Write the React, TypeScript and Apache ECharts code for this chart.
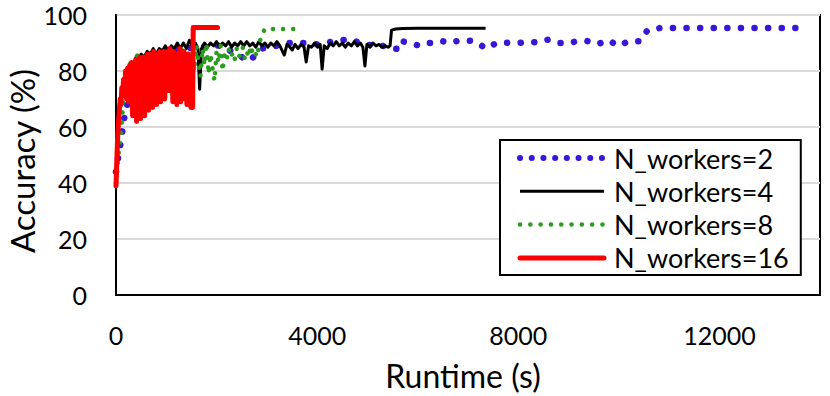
import React, { useEffect, useRef } from 'react';
import * as echarts from 'echarts';

const seriesNames = ['N_workers=2', 'N_workers=4', 'N_workers=8', 'N_workers=16'];
const xTicks = [0, 4000, 8000, 12000];
const yTicks = [0, 20, 40, 60, 80, 100];
const xTitle = 'Runtime (s)';
const yTitle = 'Accuracy (%)';

const workers2: [number, number][] = [
  [0, 44], [50, 50], [100, 55], [150, 62], [250, 70], [400, 78], [600, 83], [900, 87],
  [1300, 88], [1700, 88.5], [2000, 89.3], [2300, 87], [2650, 83.5], [2900, 88], [3100, 88.6],
  [3450, 90], [3740, 90], [4000, 89.5], [4300, 90.5], [4670, 91.4], [4900, 89.5], [5300, 89],
  [5480, 88], [5600, 87.9], [5650, 90.8], [5840, 90], [6040, 89], [6180, 90], [6300, 90],
  [6480, 90.7], [6630, 90], [6850, 91], [7110, 90.7], [7370, 88], [7560, 90], [7780, 90.1],
  [7980, 90], [8220, 90.4], [8400, 90.2], [8590, 91.2], [8790, 90], [9010, 90], [9190, 90.7],
  [9350, 90.8], [9580, 89.6], [9800, 91], [9980, 89], [10200, 90.6], [10420, 90.6],
  [10570, 94.6], [10830, 95.4], [13760, 95.4],
];

const workers4: [number, number][] = [
  [0, 42], [15, 52], [30, 58], [50, 63], [80, 68], [110, 72], [150, 75], [200, 78], [250, 81],
  [300, 83], [350, 82], [400, 85], [450, 84], [500, 86], [560, 85], [620, 87], [680, 86],
  [740, 88], [800, 86], [860, 88], [920, 87], [980, 89], [1040, 87], [1100, 89], [1160, 88],
  [1220, 90], [1280, 88], [1340, 90], [1400, 88], [1460, 91], [1520, 89], [1580, 90],
  [1630, 88], [1663, 73.5], [1700, 88], [1760, 90], [1820, 88.5], [1880, 90], [1940, 89],
  [2000, 90.5], [2060, 88.5], [2120, 90], [2180, 89], [2240, 90.5], [2300, 88.5], [2360, 90],
  [2420, 89], [2480, 90.5], [2540, 89], [2600, 90.5], [2660, 89], [2720, 90], [2780, 88.5],
  [2840, 90.5], [2900, 89], [2960, 90], [3020, 88.5], [3080, 90], [3140, 89], [3200, 90.5],
  [3260, 89], [3346, 85.7], [3400, 89.5], [3460, 88.5], [3505, 87.5], [3560, 89.5],
  [3620, 88], [3680, 89.5], [3740, 88.5], [3782, 83.2], [3830, 89], [3890, 88.5], [3950, 90],
  [4010, 88.5], [4060, 89.5], [4099, 80.7], [4140, 89], [4200, 88], [4260, 90], [4320, 89],
  [4380, 90.5], [4440, 89], [4500, 90], [4560, 88.5], [4620, 90], [4680, 89], [4740, 90.5],
  [4800, 89], [4860, 90], [4910, 88.5], [4950, 81.8], [4990, 89.5], [5050, 88.5], [5110, 90],
  [5170, 89], [5230, 89.5], [5290, 88.5], [5350, 89], [5410, 88.5], [5450, 89], [5480, 94.6],
  [5560, 95], [5700, 95.2], [6000, 95.3], [6400, 95.3], [7350, 95.3],
];

const workers8: [number, number][] = [
  [0, 40], [60, 52], [110, 60], [150, 70], [190, 78], [250, 82], [350, 84], [450, 86],
  [550, 83], [650, 87], [750, 84], [850, 88], [950, 85], [1050, 87], [1120, 84], [1190, 70],
  [1250, 85], [1330, 88], [1400, 84], [1460, 87], [1520, 86], [1560, 80], [1600, 89],
  [1640, 83], [1680, 78], [1720, 88], [1760, 82], [1800, 90], [1840, 79], [1880, 86],
  [1920, 81], [1960, 76.5], [2000, 87], [2040, 83], [2080, 89], [2120, 80], [2160, 86],
  [2200, 84], [2240, 88], [2280, 85], [2320, 86.5], [2360, 84], [2400, 88], [2440, 85],
  [2480, 86], [2520, 88.5], [2560, 84.5], [2600, 87], [2640, 85], [2680, 89], [2720, 86],
  [2760, 87], [2800, 85], [2840, 88.5], [2880, 92], [2960, 95], [3720, 95],
];

const workers16: [number, number][] = [
  [0, 39], [10, 44], [20, 50], [30, 55], [40, 59], [55, 63], [70, 67], [85, 70], [100, 68],
  [115, 74], [130, 71], [150, 77], [170, 72], [190, 80], [210, 70], [230, 81], [250, 69],
  [270, 82], [290, 71], [310, 83], [330, 64], [350, 82], [370, 66], [390, 84], [410, 62],
  [430, 83], [450, 65], [470, 85], [490, 63], [510, 84], [530, 66], [550, 85], [570, 64],
  [590, 83], [610, 67], [630, 86], [650, 66], [670, 85], [690, 69], [710, 86], [730, 67],
  [750, 87], [770, 70], [790, 85], [810, 68], [830, 86], [850, 71], [870, 87], [890, 69],
  [910, 85], [930, 72], [950, 87], [970, 70], [990, 86], [1010, 74], [1030, 87], [1050, 73],
  [1070, 88], [1090, 75], [1110, 86], [1130, 69], [1150, 87], [1170, 71], [1190, 85],
  [1210, 68], [1230, 86], [1250, 72], [1270, 88], [1290, 69], [1310, 86], [1330, 73],
  [1350, 87], [1370, 70], [1390, 85], [1410, 68], [1430, 86], [1450, 69], [1470, 85],
  [1490, 67], [1510, 84], [1525, 67], [1535, 95.5], [2020, 95.5],
];

const BLUE = '#3a17d6';
const BLACK = '#000000';
const GREEN = '#2a9d1e';
const RED = '#ff0000';
const FONT = 'Lato';

export default function App() {
  const ref = useRef<HTMLDivElement>(null);

  useEffect(() => {
    if (!ref.current) return;
    const chart = echarts.init(ref.current, null, { renderer: 'svg' });
    const hidden = { opacity: 0, color: 'rgba(0,0,0,0)', borderWidth: 0 };
    chart.setOption({
      animation: false,
      backgroundColor: '#ffffff',
      grid: {
        left: 116, right: 10, top: 15, bottom: 101,
        show: true, borderColor: '#000', borderWidth: 2, backgroundColor: 'transparent',
      },
      xAxis: {
        type: 'value',
        min: xTicks[0],
        max: 14000,
        interval: xTicks[1] - xTicks[0],
        axisLine: { show: true, lineStyle: { color: '#000', width: 2 } },
        axisTick: { show: false },
        splitLine: { show: false },
        axisLabel: {
          showMaxLabel: false, margin: 27, fontSize: 25, fontFamily: FONT, color: '#000',
          formatter: (v: number) => String(v),
        },
      },
      yAxis: {
        type: 'value',
        min: yTicks[0],
        max: yTicks[yTicks.length - 1],
        interval: yTicks[1] - yTicks[0],
        axisLine: { show: true, lineStyle: { color: '#000', width: 2 } },
        axisTick: { show: false },
        splitLine: { show: true, lineStyle: { color: '#d9d9d9', width: 2 } },
        axisLabel: { margin: 29, fontSize: 25, fontFamily: FONT, color: '#000' },
      },
      legend: {
        orient: 'vertical',
        left: 500,
        top: 140,
        padding: [3, 12, 2, 17],
        itemGap: 3.3,
        itemWidth: 84,
        itemHeight: 14,
        borderColor: '#000',
        borderWidth: 2,
        backgroundColor: '#fff',
        selectedMode: false,
        textStyle: { fontSize: 27, fontFamily: FONT, color: '#000', lineHeight: 30, padding: [0, 0, 0, 5] },
        data: [
          { name: seriesNames[0], itemStyle: hidden, lineStyle: { color: BLUE, width: 6, type: [0.1, 11.6], cap: 'round' } },
          { name: seriesNames[1], itemStyle: hidden, lineStyle: { color: BLACK, width: 3 } },
          { name: seriesNames[2], itemStyle: hidden, lineStyle: { color: GREEN, width: 4.5, type: [0.1, 10.2], cap: 'round' } },
          { name: seriesNames[3], itemStyle: hidden, lineStyle: { color: RED, width: 5, cap: 'round' } },
        ],
      },
      graphic: [
        {
          type: 'text', x: 463, y: 375,
          style: { text: xTitle, fontSize: 32, lineHeight: 32, fontFamily: FONT, fill: '#000', textAlign: 'center', textVerticalAlign: 'middle' },
        },
        {
          type: 'text', x: 22, y: 161, rotation: Math.PI / 2,
          style: { text: yTitle, fontSize: 33, lineHeight: 34, fontFamily: FONT, fill: '#000', textAlign: 'center', textVerticalAlign: 'middle' },
        },
      ],
      series: [
        {
          name: seriesNames[0], type: 'line', data: workers2, symbol: 'none', color: BLUE, silent: true,
          lineStyle: { color: BLUE, width: 6.5, type: [0.1, 13.5], cap: 'round' },
        },
        {
          name: seriesNames[1], type: 'line', data: workers4, symbol: 'none', color: BLACK, silent: true,
          lineStyle: { color: BLACK, width: 3, join: 'round' },
        },
        {
          name: seriesNames[2], type: 'line', data: workers8, symbol: 'none', color: GREEN, silent: true,
          lineStyle: { color: GREEN, width: 4.5, type: [0.1, 10], cap: 'round' },
        },
        {
          name: seriesNames[3], type: 'line', data: workers16, symbol: 'none', color: RED, silent: true,
          lineStyle: { color: RED, width: 5, join: 'round', cap: 'round' },
        },
      ],
    });
    return () => chart.dispose();
  }, []);

  return (
    <div
      ref={ref}
      style={{ position: 'fixed', left: 0, top: 0, width: 830, height: 396, background: '#fff' }}
    />
  );
}
